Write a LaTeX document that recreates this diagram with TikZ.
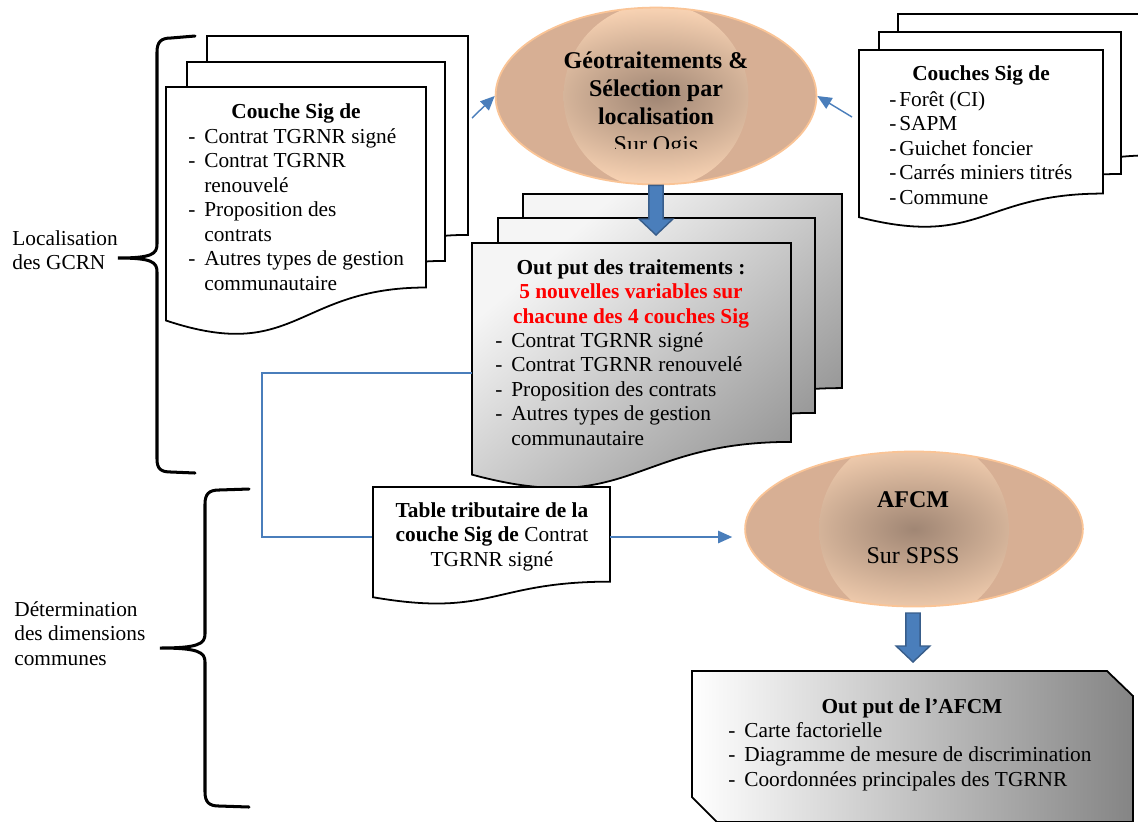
\documentclass[tikz,border=0pt]{standalone}
\usepackage{fontspec}
\setmainfont{Liberation Serif}
\usetikzlibrary{arrows.meta,calc,shapes.geometric}

\definecolor{bleu}{RGB}{74,126,187}
\definecolor{bleufonce}{RGB}{56,93,138}
\definecolor{sable}{RGB}{215,175,148}
\definecolor{peche}{RGB}{252,214,182}
\definecolor{brun}{RGB}{160,134,116}
\definecolor{contour}{RGB}{250,196,150}

\newlength{\px}
\setlength{\px}{0.5625pt}

% feuille de type document : [style] x, y, largeur, hauteur
\newcommand{\feuille}[5][blanche]{%
  \path[#1] (#2,#3) -- ({#2+#4},#3) -- ({#2+#4},{#3+0.802*#5})
    .. controls ({#2+0.5*#4},{#3+0.802*#5}) and ({#2+0.5*#4},{#3+1.1075*#5}) .. (#2,{#3+0.934*#5}) -- cycle;}

% liste a tirets
\newcommand{\liste}[2]{\begin{tabular}[t]{@{}p{#1}@{}l@{}}#2\end{tabular}}

% grosse fleche bleue vers le bas
\newcommand{\flechebloc}[2]{%
  \filldraw[flechebleue] let \p1=#1, \p2=#2 in
    (\x1-4pt,\y1) -- (\x1+4pt,\y1) -- (\x1+4pt,\y2+9pt) -- (\x1+9.5pt,\y2+9pt)
    -- (\x1,\y2) -- (\x1-9.5pt,\y2+9pt) -- (\x1-4pt,\y2+9pt) -- cycle;}

\begin{document}
\begin{tikzpicture}[x=0.5625pt, y=-0.5625pt,
    texte/.style={inner sep=0pt, font=\fontsize{12}{13.8}\selectfont},
    titre/.style={texte, font=\fontsize{12}{13.8}\selectfont\bfseries},
    grand/.style={texte, font=\fontsize{13.5}{15.75}\selectfont},
    feuille/.style={draw=black, line width=1pt},
    blanche/.style={feuille, fill=white},
    grise/.style={feuille, top color=black!4, bottom color=black!40, shading angle=40},
    bulle/.style={ellipse, draw=contour, line width=1pt, fill=sable, inner sep=0pt,
      path picture={\shade[inner color=brun, outer color=peche]
        (path picture bounding box.center) circle[radius=#1];}},
    lien/.style={draw=bleu, line width=0.8pt},
    fleche/.style={lien, -{Triangle[length=8pt, width=7pt]}},
    flechebleue/.style={fill=bleu, draw=bleufonce, line width=0.8pt},
    accolade/.style={draw=black, line width=1.7pt, line cap=round}]
  \useasboundingbox (0,0) rectangle (1138,821);

  % accolades
  \draw[accolade] (195,36) -- (171,38) .. controls (161,38) and (157,42) .. (157,52)
    -- (157,244) .. controls (157,254) and (152,258) .. (118,258)
    .. controls (152,258) and (157,262) .. (157,272)
    -- (157,459) .. controls (157,469) and (161,472) .. (171,472) -- (195,473);
  \draw[accolade] (249,489) -- (219,490) .. controls (209,490) and (205,494) .. (205,504)
    -- (205,634) .. controls (205,644) and (198,648) .. (160,648)
    .. controls (198,648) and (205,652) .. (205,662)
    -- (205,792) .. controls (205,802) and (209,806) .. (219,806) -- (249,807);
  \node[texte, anchor=base west] (loc) at (12,245)
    {\begin{tabular}[t]{@{}l@{}}Localisation\\des GCRN\end{tabular}};
  \node[texte, anchor=base west] (dim) at (14,616)
    {\begin{tabular}[t]{@{}l@{}}Détermination\\des dimensions\\communes\end{tabular}};

  % couches de depart
  \feuille{207}{36}{261}{248}
  \feuille{187}{62}{258}{248}
  \feuille{166}{87}{260}{250}
  \node[titre, anchor=base] (couche) at (296,118) {Couche Sig de};
  \node[texte, anchor=base west] (lcouche) at (188,143)
    {\liste{16\px}{- & Contrat TGRNR signé\\- & Contrat TGRNR\\ & renouvelé\\- & Proposition des\\ & contrats\\- & Autres types de gestion\\ & communautaire}};

  \feuille{898}{14}{260}{176}
  \feuille{879}{32}{242}{177}
  \feuille{859}{50}{244}{179}
  \node[titre, anchor=base] (couches) at (981,80) {Couches Sig de};
  \node[texte, anchor=base west] (lcouches) at (889,106)
    {\liste{10\px}{- & Forêt (CI)\\- & SAPM\\- & Guichet foncier\\- & Carrés miniers titrés\\- & Commune}};

  % geotraitements
  \node[bulle=52pt, minimum width=180.5pt, minimum height=99.5pt] (geo) at (656,96) {};
  \begin{scope}
    \clip (500,40) rectangle (812,148);
    \node[grand, anchor=base] (geotxt) at (656,68)
      {\begin{tabular}[t]{@{}c@{}}\textbf{Géotraitements \&}\\\textbf{Sélection par}\\\textbf{localisation}\\Sur Qgis\end{tabular}};
  \end{scope}
  \coordinate (vg) at (472,118);
  \coordinate (vd) at (852,117);
  \draw[fleche] (vg) -- (geo.west);
  \draw[fleche] (vd) -- (geo.east);

  % sortie des traitements
  \feuille[grise]{523}{194}{319}{242}
  \feuille[grise]{498}{218}{317}{243}
  \feuille[grise]{472}{243}{319}{248}
  \node[titre, anchor=base] (sortie1) at (631,274)
    {\begin{tabular}[t]{@{}c@{}}Out put des traitements :\\\color{red}5 nouvelles variables sur\\\color{red}chacune des 4 couches Sig\end{tabular}};
  \node[texte, anchor=base west] (lsortie1) at (495,347)
    {\liste{16\px}{- & Contrat TGRNR signé\\- & Contrat TGRNR renouvelé\\- & Proposition des contrats\\- & Autres types de gestion\\ & communautaire}};
  \coordinate (f1) at (657,235);
  \flechebloc{(geo.south)}{(f1)}

  % table
  \coordinate (gris) at (472,373);
  \coordinate (tabg) at (373,537);
  \coordinate (tabd) at (610,537);
  \draw[lien] (gris) -- ++(-210,0) |- (tabg);
  \feuille{373}{487}{237}{118}
  \node[texte, anchor=base] (table) at (492,517)
    {\begin{tabular}[t]{@{}c@{}}\textbf{Table tributaire de la}\\\textbf{couche Sig de} Contrat\\TGRNR signé\end{tabular}};

  % AFCM
  \node[bulle=53.4pt, minimum width=190pt, minimum height=87.2pt] (afcm) at (914,529) {};
  \node[grand, anchor=base] (afcmtxt) at (913,507)
    {\begin{tabular}[t]{@{}c@{}}\textbf{AFCM}\\ \\Sur SPSS\end{tabular}};
  \draw[fleche, shorten >=6.75pt] (tabd) -- (tabd -| afcm.west);
  \coordinate (f2h) at (913,613);
  \coordinate (f2b) at (913,662);
  \flechebloc{(f2h)}{(f2b)}

  % sortie de l'AFCM
  \path[feuille, left color=white, right color=black!48]
    (692,671) -- (1107,671) -- (1133,696) -- (1133,822) -- (717,822) -- (692,797) -- cycle;
  \node[titre, anchor=base] (sortie2) at (912,713) {Out put de l'AFCM};
  \node[texte, anchor=base west] (lsortie2) at (728,737)
    {\liste{16\px}{- & Carte factorielle\\- & Diagramme de mesure de discrimination\\- & Coordonnées principales des TGRNR}};
\end{tikzpicture}
\end{document}
